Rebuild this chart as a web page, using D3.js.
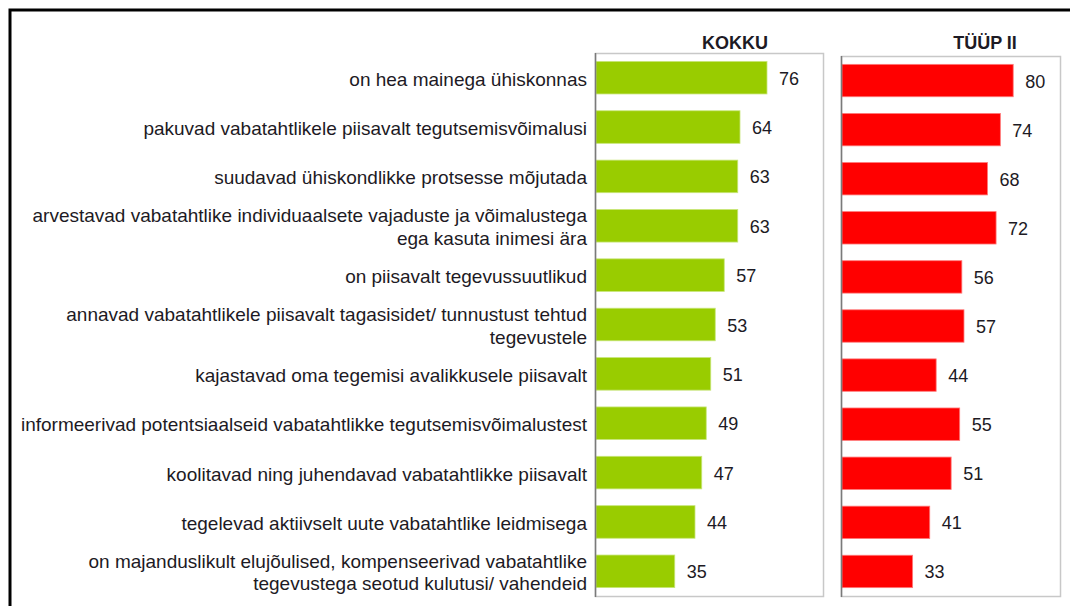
<!DOCTYPE html>
<html>
<head>
<meta charset="utf-8">
<script src="https://cdn.jsdelivr.net/npm/d3@7"></script>
<style>
  body { margin: 0; background: #fff; }
  text { font-family: "Liberation Sans", Arial, sans-serif; fill: #1d1a24; }
</style>
</head>
<body>
<div id="chart"></div>
<script>
// rows, top to bottom (multi-line labels split with |)
var categories = [
    "on hea mainega ühiskonnas",
    "pakuvad vabatahtlikele piisavalt tegutsemisvõimalusi",
    "suudavad ühiskondlikke protsesse mõjutada",
    "arvestavad vabatahtlike individuaalsete vajaduste ja võimalustega|ega kasuta inimesi ära",
    "on piisavalt tegevussuutlikud",
    "annavad vabatahtlikele piisavalt tagasisidet/ tunnustust tehtud|tegevustele",
    "kajastavad oma tegemisi avalikkusele piisavalt",
    "informeerivad potentsiaalseid vabatahtlikke tegutsemisvõimalustest",
    "koolitavad ning juhendavad vabatahtlikke piisavalt",
    "tegelevad aktiivselt uute vabatahtlike leidmisega",
    "on majanduslikult elujõulised, kompenseerivad vabatahtlike|tegevustega seotud kulutusi/ vahendeid"
];
var kokku = [76, 64, 63, 63, 57, 53, 51, 49, 47, 44, 35];
var tyyp2 = [80, 74, 68, 72, 56, 57, 44, 55, 51, 41, 33];
var seriesNames = ["KOKKU", "TÜÜP II"];

var width = 1070, height = 606;

var svg = d3.select("#chart").append("svg")
    .attr("width", width)
    .attr("height", height);

// outer black frame, runs off the right and bottom of the picture
svg.append("rect")
    .attr("x", 10).attr("y", 10)
    .attr("width", 1100).attr("height", 700)
    .attr("fill", "none")
    .attr("stroke", "#000")
    .attr("stroke-width", 3);

var panels = [
    { name: seriesNames[0], values: kokku, color: "#99cc00", edge: "#c8e67a",
      left: 595, right: 823, top: 53, bottom: 596, barEnd: 821, titleX: 735 },
    { name: seriesNames[1], values: tyyp2, color: "#ff0000", edge: "#ff7a7a",
      left: 841, right: 1060, top: 56, bottom: 596, barEnd: 1056, titleX: 985 }
];

panels.forEach(function (p, pi) {
    var y = d3.scaleBand()
        .domain(categories)
        .range([p.top, p.bottom])
        .paddingInner(0.34)
        .paddingOuter(0.17);
    var x = d3.scaleLinear()
        .domain([0, 100])
        .range([p.left + 1, p.barEnd]);

    var g = svg.append("g");

    // panel box, light on three sides
    g.append("rect")
        .attr("x", p.left + 0.5).attr("y", p.top + 0.5)
        .attr("width", p.right - p.left).attr("height", p.bottom - p.top)
        .attr("fill", "none")
        .attr("stroke", "#c8c8c8")
        .attr("stroke-width", 1.5);

    g.selectAll("rect.bar")
        .data(p.values)
        .join("rect")
        .attr("class", "bar")
        .attr("x", x(0))
        .attr("y", (d, i) => y(categories[i]))
        .attr("width", d => x(d) - x(0))
        .attr("height", y.bandwidth())
        .attr("fill", p.color)
        .attr("stroke", p.edge)
        .attr("stroke-width", 0.8);

    g.selectAll("text.val")
        .data(p.values)
        .join("text")
        .attr("class", "val")
        .attr("x", d => x(d) + 12)
        .attr("y", (d, i) => y(categories[i]) + y.bandwidth() / 2 + 7)
        .style("font-size", "18px")
        .text(d => d);

    // dark axis line on the left
    g.append("line")
        .attr("x1", p.left + 0.5).attr("x2", p.left + 0.5)
        .attr("y1", p.top).attr("y2", p.bottom + 1)
        .attr("stroke", "#7a7a7a")
        .attr("stroke-width", 1.5);

    svg.append("text")
        .attr("x", p.titleX)
        .attr("y", 49)
        .attr("text-anchor", "middle")
        .style("font-size", "18px")
        .style("font-weight", "bold")
        .text(p.name);

    // category labels, only once, left of the first panel
    if (pi === 0) {
        var lab = svg.append("g").selectAll("text")
            .data(categories)
            .join("text")
            .attr("text-anchor", "end")
            .style("font-size", "19px")
            .attr("transform", d => "translate(587," + (y(d) + y.bandwidth() / 2) + ")");
        lab.each(function (d) {
            var lines = d.split("|");
            var t = d3.select(this);
            var off = lines.length > 1 ? -3.5 : 8;
            lines.forEach(function (l, k) {
                t.append("tspan")
                    .attr("x", 0)
                    .attr("y", off + k * 22.5)
                    .text(l);
            });
        });
    }
});
</script>
</body>
</html>
